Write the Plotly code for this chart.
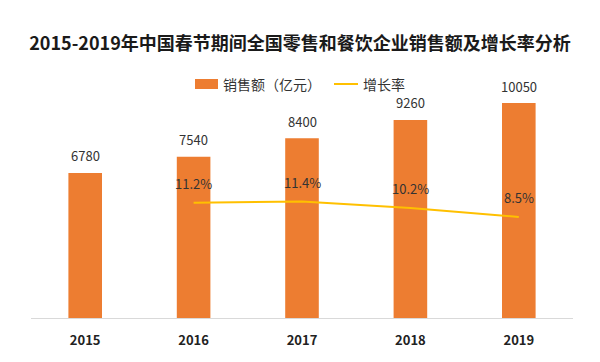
import plotly.graph_objects as go

years = ["2015", "2016", "2017", "2018", "2019"]
sales = [6780, 7540, 8400, 9260, 10050]
growth_years = ["2016", "2017", "2018", "2019"]
growth = [11.2, 11.4, 10.2, 8.5]

title = "2015-2019年中国春节期间全国零售和餐饮企业销售额及增长率分析"
legend_bar = "销售额（亿元）"
legend_line = "增长率"
font_cjk = "Noto Sans CJK SC, Noto Sans, sans-serif"

W, H = 600, 362
L, R, T, B = 31, 27, 95, 44
pw, ph = W - L - R, H - T - B


def px_x(p):
    return (p - L) / pw


def px_y(p):
    return (H - B - p) / ph


fig = go.Figure()
fig.add_trace(go.Bar(
    x=years, y=sales, name=legend_bar,
    marker=dict(color="#ED7D31", line=dict(width=0)),
    width=0.31, cliponaxis=False, showlegend=False,
))
fig.add_trace(go.Scatter(
    x=growth_years, y=growth, name=legend_line, yaxis="y2",
    mode="lines", line=dict(color="#FFC000", width=2), cliponaxis=False,
    showlegend=False,
))

annotations = []
for x, v in zip(years, sales):
    annotations.append(dict(x=years.index(x), y=v, xref="x", yref="y", text=str(v),
                            showarrow=False, yshift=17, yanchor="middle",
                            font=dict(size=13, color="#333333", family=font_cjk)))
for x, v in zip(growth_years, growth):
    annotations.append(dict(x=years.index(x), y=v, xref="x", yref="y2", text=f"{v}%",
                            showarrow=False, yshift=19, yanchor="middle",
                            font=dict(size=13, color="#333333", family=font_cjk)))

# custom legend
ly = 84
annotations.append(dict(x=px_x(221), y=px_y(ly), xref="paper", yref="paper",
                        text=legend_bar, showarrow=False, xanchor="left",
                        yanchor="middle",
                        font=dict(size=14, color="#333333", family=font_cjk)))
annotations.append(dict(x=px_x(361), y=px_y(ly), xref="paper", yref="paper",
                        text=legend_line, showarrow=False, xanchor="left",
                        yanchor="middle",
                        font=dict(size=14, color="#333333", family=font_cjk)))
shapes = [
    dict(type="rect", xref="paper", yref="paper",
         x0=px_x(195), x1=px_x(218), y0=px_y(ly + 5), y1=px_y(ly - 5),
         fillcolor="#ED7D31", line=dict(width=0)),
    dict(type="line", xref="paper", yref="paper",
         x0=px_x(334), x1=px_x(358), y0=px_y(ly), y1=px_y(ly),
         line=dict(color="#FFC000", width=2)),
]

fig.update_layout(
    width=W, height=H,
    margin=dict(l=L, r=R, t=T, b=B),
    paper_bgcolor="white", plot_bgcolor="white",
    font=dict(family=font_cjk, color="#333333"),
    title=dict(text=f"<b>{title}</b>", x=0.5, xanchor="center",
               y=1 - 44 / H, yanchor="middle",
               font=dict(size=18, color="#1a1a1a", family=font_cjk)),
    showlegend=False,
    xaxis=dict(type="category", categoryorder="array", categoryarray=years,
               range=[-0.5, len(years) - 0.5],
               showgrid=False, showline=True,
               linecolor="#d9d9d9", linewidth=1, ticks="outside", ticklen=10,
               tickcolor="rgba(0,0,0,0)",
               tickfont=dict(size=13, color="#222222", family=font_cjk, weight="bold")),
    yaxis=dict(range=[0, 10425], visible=False, showgrid=False),
    yaxis2=dict(range=[-10.56, 31.5], overlaying="y", side="right",
                visible=False, showgrid=False),
    annotations=annotations,
    shapes=shapes,
)
fig.write_html("out.html",
               config={"displayModeBar": False},
               post_script="document.body.style.margin='0';document.body.style.padding='0';")
